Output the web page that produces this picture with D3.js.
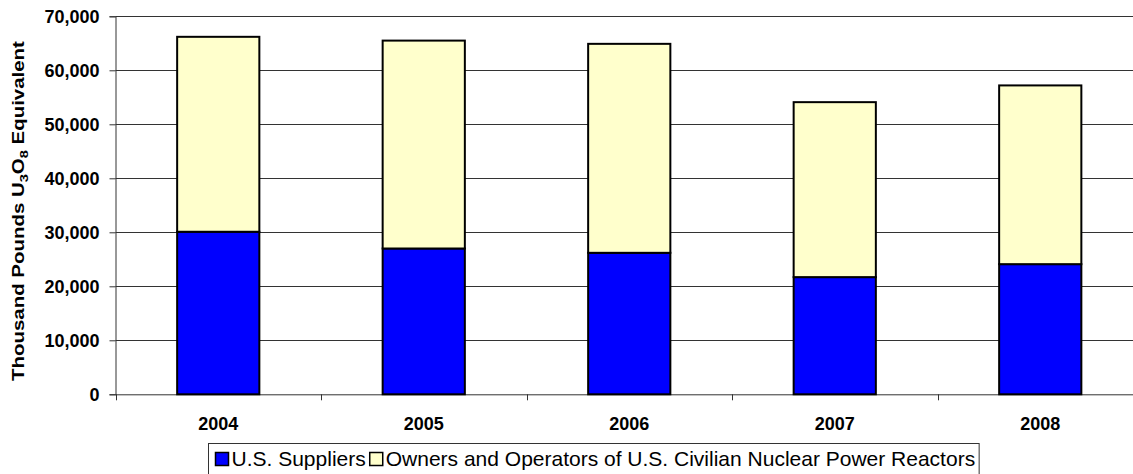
<!DOCTYPE html>
<html><head><meta charset="utf-8">
<script src="https://cdn.jsdelivr.net/npm/d3@7"></script>
<style>body{margin:0;background:#fff;} svg{display:block;font-family:"Liberation Sans",Arial,sans-serif;}</style>
</head><body>
<svg id="c" width="1133" height="474"></svg>
<script>
const years = ["2004","2005","2006","2007","2008"];
const suppliers = [30100, 27000, 26200, 21700, 24100];
const owners = [36100, 38500, 38700, 32400, 33100];
const yTicks = [0,10000,20000,30000,40000,50000,60000,70000];
const seriesNames = ["U.S. Suppliers","Owners and Operators of U.S. Civilian Nuclear Power Reactors"];
const colors = ["#0000FF","#FFFFCC"];

const svg = d3.select("#c");
const pLeft = 115.5, pRight = 1143, pTop = 16.3, pBottom = 394.3;
const x = d3.scaleBand().domain(years).range([pLeft, pRight]).paddingInner(0.6).paddingOuter(0.3);
const xb = d3.scaleBand().domain(years).range([pLeft, pRight]);
const y = d3.scaleLinear().domain([0,70000]).range([pBottom, pTop]);

// gridlines
svg.append("g").selectAll("line").data(yTicks.filter(d=>d>0)).join("line")
  .attr("x1", pLeft).attr("x2", pRight).attr("y1", d=>Math.round(y(d))+0.5).attr("y2", d=>Math.round(y(d))+0.5)
  .attr("stroke", "#333").attr("stroke-width", 1);

// y axis
const yAxis = d3.axisLeft(y).tickValues(yTicks).tickSize(6).tickPadding(10).tickFormat(d3.format(","));
const gy = svg.append("g").attr("transform", `translate(${pLeft},0)`).call(yAxis);
gy.select(".domain").attr("stroke","#333");
gy.selectAll(".tick line").attr("stroke","#333");
gy.selectAll(".tick text").attr("font-size", 18).attr("font-weight","bold").attr("fill","#000")
  .attr("font-family","Liberation Sans, Arial, sans-serif");

// x axis
const gx = svg.append("g").attr("transform", `translate(0,${pBottom})`);
gx.append("line").attr("x1", pLeft).attr("x2", pRight).attr("y1",0.5).attr("y2",0.5).attr("stroke","#333");
gx.selectAll("line.t").data(years.concat(["end"])).join("line").attr("class","t")
  .attr("x1",(d,i)=>Math.round(pLeft + i*xb.bandwidth())+0.5).attr("x2",(d,i)=>Math.round(pLeft + i*xb.bandwidth())+0.5)
  .attr("y1",0).attr("y2",6).attr("stroke","#333");
gx.selectAll("text").data(years).join("text")
  .attr("x", d=>xb(d)+xb.bandwidth()/2).attr("y", 36)
  .attr("text-anchor","middle").attr("font-size",18).attr("font-weight","bold").text(d=>d);

// stacked bars
const stackData = years.map((yr,i)=>({year:yr, s:suppliers[i], o:owners[i]}));
const stack = d3.stack().keys(["s","o"])(stackData);
svg.append("g").selectAll("g").data(stack).join("g").attr("fill",(d,i)=>colors[i])
  .selectAll("rect").data(d=>d).join("rect")
  .attr("x", d=>x(d.data.year)).attr("width", x.bandwidth())
  .attr("y", d=>y(d[1])).attr("height", d=>y(d[0])-y(d[1]))
  .attr("stroke","#000").attr("stroke-width",2);

// y axis title
const ytg = svg.append("g").attr("transform","translate(24,211) rotate(-90)");
const yt = ytg.append("text").attr("text-anchor","middle").attr("font-size",16).attr("font-weight","bold");
yt.append("tspan").text("Thousand Pounds U");
yt.append("tspan").attr("font-size",11.5).attr("dy",4).text("3");
yt.append("tspan").attr("dy",-4).text("O");
yt.append("tspan").attr("font-size",11.5).attr("dy",4).text("8");
yt.append("tspan").attr("dy",-4).text(" Equivalent");
const tlen = yt.node().getComputedTextLength();
yt.attr("transform", `scale(${340/tlen},1)`);

// legend
const lg = svg.append("g");
const box = lg.append("rect").attr("x",208.5).attr("y",443.5).attr("height",31).attr("fill","#fff").attr("stroke","#333");
let cx = 215.5;
seriesNames.forEach((n,i)=>{
  lg.append("rect").attr("x",cx).attr("y",452.5).attr("width",13).attr("height",13)
    .attr("fill",colors[i]).attr("stroke","#000").attr("stroke-width",1.5);
  const t = lg.append("text").attr("x",cx+16).attr("y",466).attr("font-size",21).text(n);
  cx = cx + 16 + t.node().getComputedTextLength() + 4;
});
box.attr("width", cx - 208.5);
</script>
</body></html>
